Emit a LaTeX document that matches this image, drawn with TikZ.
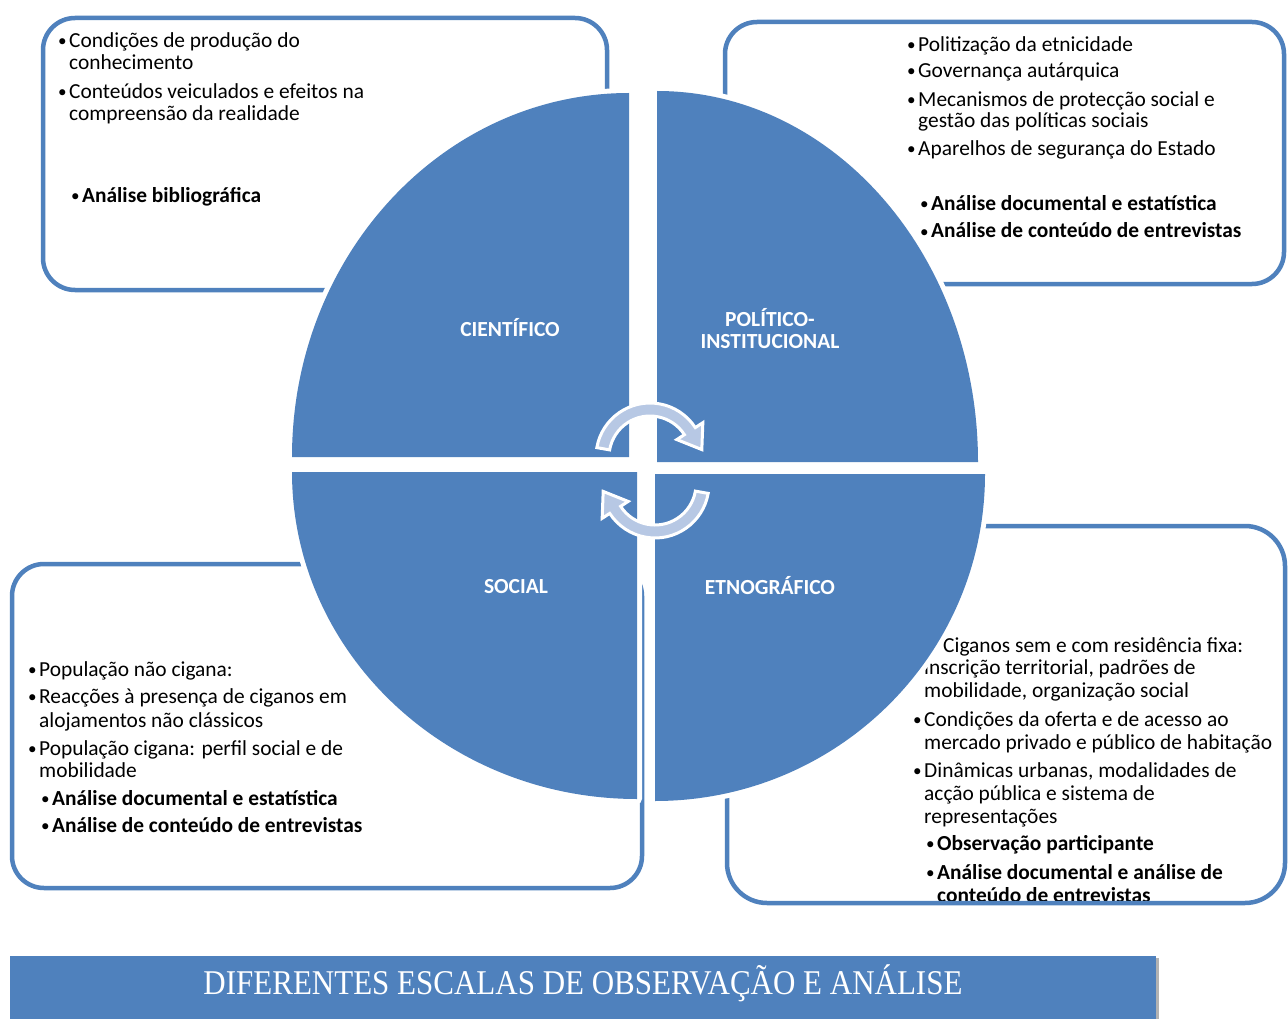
\documentclass[tikz,border=0pt]{standalone}
\usepackage{fontspec}
\setmainfont{Carlito}
\newfontfamily\bannerfont{Liberation Serif}
\usetikzlibrary{calc}
\definecolor{officeblue}{HTML}{4F81BD}
\definecolor{arrowtint}{HTML}{B7C8E4}
% bullet hung to the left of the text start
\newcommand\itembul{\llap{\mdseries\raisebox{1pt}{\scalebox{0.8}{\textbullet}}\hspace{2.5pt}}}
% curved cycle arrow: centre, start angle, end angle (angles grow clockwise)
\newcommand\turnarrow[4]{%
  \pgfmathsetmacro\tipdir{#3+90}%
  \path[name=#4, fill=arrowtint, draw=white, line width=3pt, line join=miter]
    ($(#1)+(#2:54)$) arc[start angle=#2, end angle=#3, radius=54]
    -- ($(#1)+(#3:63)$) -- ($(#1)+(#3:47.5)+(\tipdir:22)$) -- ($(#1)+(#3:32)$)
    -- ($(#1)+(#3:41)$) arc[start angle=#3, end angle=#2, radius=41] -- cycle;}
\begin{document}
\begin{tikzpicture}[x=1pt, y=-1pt,
  txt/.style={anchor=base west, inner sep=0pt, font=\fontsize{21.4}{24}\selectfont},
  txtb/.style={anchor=base west, inner sep=0pt, font=\bfseries\fontsize{21.4}{24}\selectfont},
  lbl/.style={anchor=base, inner sep=0pt, text=white, font=\bfseries\fontsize{21.5}{24}\selectfont},
  frame/.style={draw=officeblue, line width=4.5pt, rounded corners=32pt},
  halo/.style={draw=white, line width=10pt, line join=round},
  quad/.style={fill=officeblue}]
\useasboundingbox (0,0) rectangle (1288,1019);
\fill[white] (0,0) rectangle (1288,1019);

% ---- texts of the four boxes ----
\foreach \x/\y/\t [count=\i] in {
  69/48/\itembul Condições de produção do,
  69/70/conhecimento,
  69/99/\itembul Conteúdos veiculados e efeitos na,
  69/121/compreensão da realidade}
  \node[txt] (tl\i) at (\x,\y) {\t};
\node[txtb] (tlb) at (82,203) {\itembul Análise bibliográfica};

\foreach \x/\y/\t [count=\i] in {
  918/52/\itembul Politização da etnicidade,
  918/78/\itembul Governança autárquica,
  918/107/\itembul Mecanismos de protecção social e,
  918/128/gestão das políticas sociais,
  918/156/\itembul Aparelhos de segurança do Estado}
  \node[txt] (tr\i) at (\x,\y) {\t};
\foreach \x/\y/\t [count=\i] in {
  931/211/\itembul Análise documental e estatística,
  931/238/\itembul Análise de conteúdo de entrevistas}
  \node[txtb] (trb\i) at (\x,\y) {\t};

\foreach \x/\y/\t [count=\i] in {
  39/676/\itembul População não cigana:,
  39/703/\itembul Reacções à presença de ciganos em,
  39/727/alojamentos não clássicos,
  39/755/\itembul População cigana: perfil social e de,
  39/777/mobilidade}
  \node[txt] (bl\i) at (\x,\y) {\t};
\foreach \x/\y/\t [count=\i] in {
  52/805/\itembul Análise documental e estatística,
  52/832/\itembul Análise de conteúdo de entrevistas}
  \node[txtb] (blb\i) at (\x,\y) {\t};

\foreach \x/\y/\t [count=\i] in {
  943/652/Ciganos sem e com residência fixa:,
  {924/674/inscrição territorial, padrões de},
  {924/697/mobilidade, organização social},
  924/726/\itembul Condições da oferta e de acesso ao,
  924/749/mercado privado e público de habitação,
  {924/777/\itembul Dinâmicas urbanas, modalidades de},
  924/800/acção pública e sistema de,
  924/823/representações}
  \node[txt] (br\i) at (\x,\y) {\t};
\foreach \x/\y/\t [count=\i] in {
  937/850/\itembul Observação participante,
  937/879/\itembul Análise documental e análise de,
  937/902/conteúdo de entrevistas}
  \node[txtb] (brb\i) at (\x,\y) {\t};

% ---- rounded frames ----
\draw[frame] (43,18) rectangle (607,290);
\draw[frame] (725,22) rectangle (1284,284);
\draw[frame] (12,564) rectangle (642,888);
\draw[frame, rounded corners=40pt] (727,526) rectangle (1285,903);

% ---- the four quadrants (white halo first, then the blue fill) ----
\foreach \s in {halo, quad} {
  \path[\s] (629,457) -- (292,457) arc[start angle=180, end angle=270, x radius=337, y radius=364] -- cycle;
  \path[\s] (657,462) -- (657,91) arc[start angle=270, end angle=360, x radius=321, y radius=371] -- cycle;
  \path[\s] (637,472) -- (292,472) arc[start angle=180, end angle=90, x radius=345, y radius=327] -- cycle;
  \path[\s] (655,474) -- (985,474) arc[start angle=0, end angle=90, x radius=330, y radius=327] -- cycle;
}

\node[lbl] (cient) at (510,336) {CIENTÍFICO};
\node[lbl] (polit) at (770,326) {POLÍTICO-};
\node[lbl] (instit) at (770,348) {INSTITUCIONAL};
\node[lbl] (social) at (516,593) {SOCIAL};
\node[lbl] (etno) at (770,594) {ETNOGRÁFICO};

% ---- cycle arrows in the centre ----
\turnarrow{650,457}{190}{327}{uparrow}
\turnarrow{655,484}{10}{147}{downarrow}

% ---- title banner ----
\fill[officeblue] (10,956) rectangle (1156,1019);
\fill[gray!60] (1156,958) rectangle (1159,1019);
\node[anchor=base, inner sep=0pt, text=white] (banner) at (583,994)
  {\bannerfont\fontsize{31}{31}\selectfont\scalebox{1}[1.12]{DIFERENTES ESCALAS DE OBSERVAÇÃO E ANÁLISE}};
\end{tikzpicture}
\end{document}
